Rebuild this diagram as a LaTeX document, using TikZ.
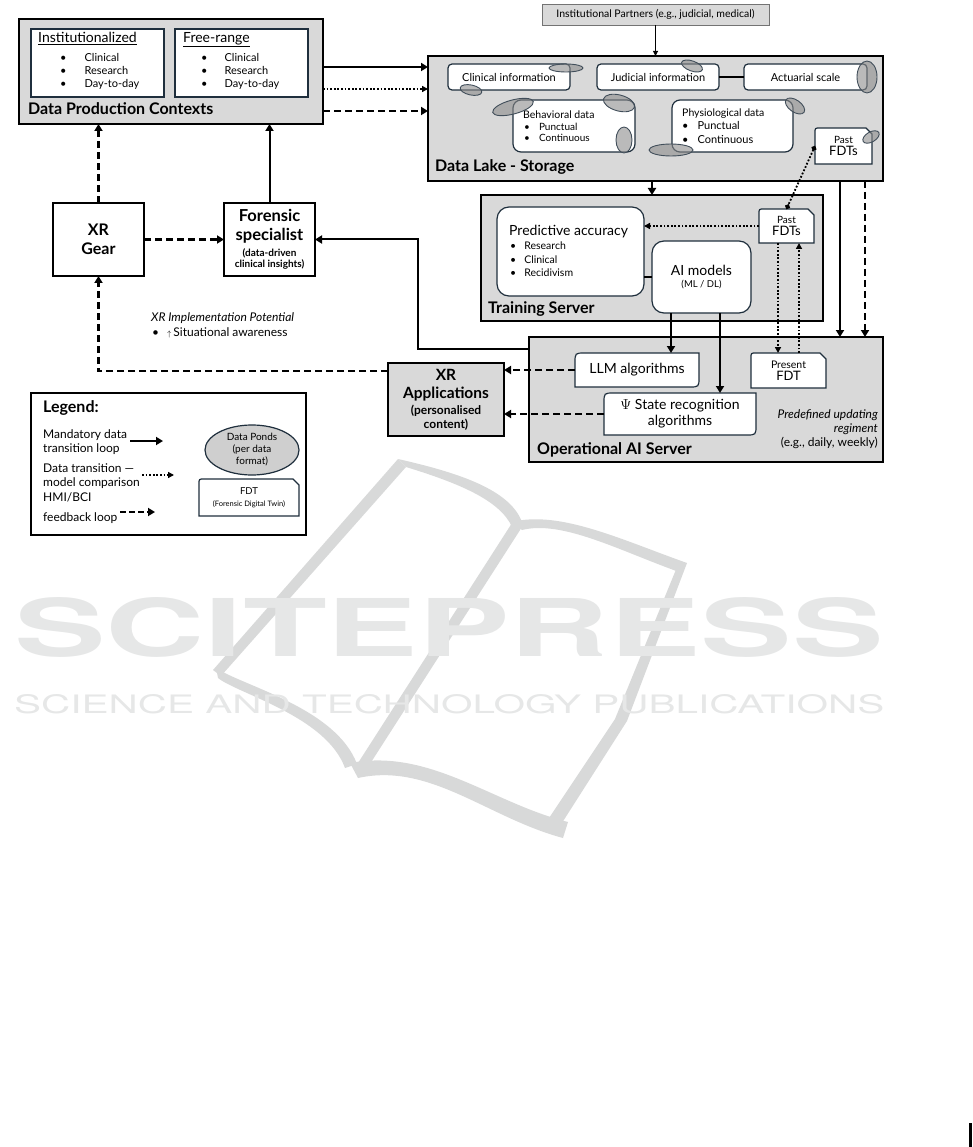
\documentclass[tikz,border=0pt]{standalone}
\usepackage{fontspec}
\setmainfont{Lato}
\newfontfamily\wmfont{TeX Gyre Heros}
\usepackage{graphicx}
\usepackage{tikz}
\usetikzlibrary{arrows.meta,calc,positioning,shapes.geometric}

\definecolor{panelgray}{HTML}{D9D9D9}
\definecolor{boxline}{HTML}{1F2F3D}
\definecolor{pondgray}{HTML}{8C8C8C}
\definecolor{wmgray}{HTML}{E6E7E7}
\definecolor{wmstrokegray}{HTML}{D8D9D9}

\newcommand{\fsz}[2]{\fontsize{#1}{#2}\selectfont}

\tikzstyle{panel} = [rectangle, draw=black, line width=2.2pt, fill=panelgray, anchor=north west, inner sep=0pt, outer sep=0pt]
\tikzstyle{whitepanel} = [panel, fill=white]
\tikzstyle{infobox} = [rectangle, rounded corners=4pt, draw=boxline, line width=1.2pt, fill=white, anchor=north west, inner sep=0pt, outer sep=0pt]
\tikzstyle{holder} = [rectangle, anchor=north west, inner sep=0pt, outer sep=0pt, line width=0pt]
\tikzstyle{title} = [anchor=base west, inner sep=0pt, font=\fsz{16}{19}\bfseries]
\tikzstyle{listnode} = [anchor=base west, inner sep=0pt]
\tikzstyle{txt} = [inner sep=0pt, align=center]
\tikzstyle{wmshape} = [fill=wmstrokegray, draw=none]
\tikzstyle{pond} = [draw=boxline!85, line width=0.9pt, fill=pondgray, fill opacity=0.6]
\tikzstyle{solidarrow} = [-{Triangle[length=7pt,width=8pt]}, line width=2pt]
\tikzstyle{thinarrow} = [-{Triangle[length=5pt,width=5pt]}, line width=1pt]
\tikzstyle{dotarrow} = [-{Triangle[length=6pt,width=6pt]}, line width=1.8pt, dash pattern=on 1.8pt off 1.8pt]
\tikzstyle{dasharrow} = [-{Triangle[length=7pt,width=8pt]}, line width=2.2pt, dash pattern=on 7pt off 4pt]

% FDT outline: rounded top left, cut top right
\newcommand{\fdtshape}[1]{%
  \filldraw[fill=white, draw=boxline, line width=1.2pt]
    (#1.south west) -- ($(#1.north west)+(0,5)$) .. controls (#1.north west) .. ($(#1.north west)+(5,0)$)
    -- ($(#1.north east)+(-6,0)$) -- ($(#1.north east)+(0,6)$) -- (#1.south east) -- cycle;}
% algorithm outline: rounded top left and bottom right
\newcommand{\diagshape}[1]{%
  \filldraw[fill=white, draw=boxline, line width=1.2pt]
    ($(#1.north west)+(0,10)$) .. controls (#1.north west) .. ($(#1.north west)+(10,0)$)
    -- (#1.north east) -- ($(#1.south east)+(0,-10)$) .. controls (#1.south east) .. ($(#1.south east)+(-10,0)$)
    -- (#1.south west) -- cycle;}

\begin{document}
\begin{tikzpicture}[x=1pt, y=-1pt]
\useasboundingbox (0,0) rectangle (972,1147);

% watermark
\fill[wmshape] (213,670) -- (398,459) -- (406,467) -- (221,676) -- cycle;
\fill[wmshape] (398,459) .. controls (460,473) and (510,490) .. (522,522) -- (512,527)
      .. controls (500,500) and (458,483) .. (406,467) -- cycle;
\fill[wmshape] (512,522) .. controls (560,510) and (622,540) .. (687,563) -- (679,572)
      .. controls (618,550) and (562,520) .. (522,530) -- cycle;
\fill[wmshape] (687,563) -- (627,721) -- (560,826) -- (547,821) -- (615,719) -- (677,567) -- cycle;
\fill[wmshape] (512,523) -- (522,527) -- (368,767) -- (358,763) -- cycle;
\fill[wmshape] (216,668) .. controls (243,686) and (336,708) .. (357,764) -- (345,768)
      .. controls (326,716) and (238,694) .. (218,678) -- cycle;
\fill[wmshape] (350,763) .. controls (430,748) and (492,803) .. (568,822) -- (563,838)
      .. controls (488,818) and (430,762) .. (358,778) -- cycle;
\node (wmtitle) [anchor=north west, inner sep=0pt, text=wmgray] at (14,597) {\resizebox{869pt}{59pt}{\wmfont\bfseries SCITEPRESS}};
\node (wmsub) [anchor=north west, inner sep=0pt, text=wmgray] at (14,694) {\resizebox{870pt}{19pt}{\wmfont SCIENCE AND TECHNOLOGY PUBLICATIONS}};
\fill (969,1123) rectangle (972,1147);

% data production contexts
\node (dpc) [panel, minimum width=304pt, minimum height=105pt] at (19,19) {};
\node (inst) [infobox, rounded corners=0pt, line width=1.5pt, minimum width=133pt, minimum height=68pt] at (31,29) {};
\node (free) [infobox, rounded corners=0pt, line width=1.5pt, minimum width=133pt, minimum height=68pt] at (175,29) {};
\node (insttitle) [listnode, font=\fsz{14}{16}] at (38,42.5) {\underline{Institutionalized}};
\node (freetitle) [listnode, font=\fsz{14}{16}] at (183,42.5) {\underline{Free-range}};
\node (instlist) [listnode, font=\fsz{11}{13}] at (60,62) {\begin{tabular}[t]{@{}l@{\hspace{18pt}}l@{}}
  \textbullet & Clinical\\ \textbullet & Research\\ \textbullet & Day-to-day\end{tabular}};
\node (freelist) [listnode, font=\fsz{11}{13}] at (201,62) {\begin{tabular}[t]{@{}l@{\hspace{17pt}}l@{}}
  \textbullet & Clinical\\ \textbullet & Research\\ \textbullet & Day-to-day\end{tabular}};
\node (dpctitle) [title] at (28,115) {Data Production Contexts};

% data lake
\node (partners) [panel, line width=0.8pt, draw=black!55, minimum width=227pt, minimum height=21pt, font=\fsz{10.5}{12}] at (542,4) {Institutional Partners (e.g., judicial, medical)};
\node (lake) [panel, minimum width=455pt, minimum height=125pt] at (428,56) {};
\node (clinfo) [infobox, minimum width=122pt, minimum height=26pt, font=\fsz{11}{13}] at (448,64) {Clinical information};
\node (judinfo) [infobox, minimum width=122pt, minimum height=26pt, font=\fsz{11}{13}] at (597,64) {Judicial information};
\node (actuarial) [infobox, minimum width=123pt, minimum height=26pt, font=\fsz{11}{13}] at (744,64) {Actuarial scale};
\draw[line width=1.5pt] (judinfo.east) -- (actuarial.west);
\node (behav) [infobox, rounded corners=8pt, minimum width=122pt, minimum height=52pt] at (513,100) {};
\node (behavtxt) [listnode, font=\fsz{10.5}{12}] at (523,119) {Behavioral data};
\node (behavlist) [listnode, font=\fsz{10}{11}] at (524,131) {\begin{tabular}[t]{@{}l@{\hspace{9pt}}l@{}}
  \textbullet & Punctual\\ \textbullet & Continuous\end{tabular}};
\node (physio) [infobox, rounded corners=8pt, minimum width=121pt, minimum height=52pt] at (672,100) {};
\node (physiotxt) [listnode, font=\fsz{10.5}{12}] at (682,117) {Physiological data};
\node (physiolist) [listnode, font=\fsz{11}{13.5}] at (682,130) {\begin{tabular}[t]{@{}l@{\hspace{9pt}}l@{}}
  \textbullet & Punctual\\ \textbullet & Continuous\end{tabular}};
\node (pastlake) [holder, minimum width=57pt, minimum height=36pt] at (815,128) {};
\fdtshape{pastlake}
\node (pastlaketxt) [txt] at (pastlake.center) {\fsz{10}{14}Past\\\fsz{13}{15}FDTs};
\node (laketitle) [title] at (435,172) {Data Lake - Storage};

% training server
\node (train) [panel, minimum width=342pt, minimum height=126pt] at (481,195) {};
\node (predacc) [infobox, rounded corners=12pt, minimum width=147pt, minimum height=89pt] at (497,207) {};
\node (predacctxt) [listnode, font=\fsz{14}{16}] at (509,236) {Predictive accuracy};
\node (predlist) [listnode, font=\fsz{10.5}{13.5}] at (510,250) {\begin{tabular}[t]{@{}l@{\hspace{8pt}}l@{}}
  \textbullet & Research\\ \textbullet & Clinical\\ \textbullet & Recidivism\end{tabular}};
\node (aimodels) [infobox, rounded corners=12pt, minimum width=99pt, minimum height=72pt, align=center] at (652,241) {\fsz{14}{19}AI models\\\fsz{9.5}{11}(ML / DL)};
\node (pasttrain) [holder, minimum width=55pt, minimum height=34pt] at (759,209) {};
\fdtshape{pasttrain}
\node (pasttraintxt) [txt] at (pasttrain.center) {\fsz{10}{14}Past\\\fsz{13}{15}FDTs};
\node (traintitle) [title] at (488,313) {Training Server};

% operational ai server
\node (opai) [panel, minimum width=354pt, minimum height=125pt] at (529,337) {};
\node (llm) [holder, minimum width=124pt, minimum height=34pt] at (575,353) {};
\diagshape{llm}
\node (llmtxt) [txt, font=\fsz{14}{17}] at (llm.center) {LLM algorithms};
\node (present) [holder, minimum width=75pt, minimum height=35pt] at (751,353) {};
\fdtshape{present}
\node (presenttxt) [txt] at (present.center) {\fsz{10.5}{15}Present\\\fsz{13}{15}FDT};
\node (psi) [holder, minimum width=152pt, minimum height=42pt] at (604,393) {};
\diagshape{psi}
\node (psitxt) [txt, font=\fsz{14}{16}] at (psi.center) {$\Psi$ State recognition\\algorithms};
\node (regiment) [anchor=north east, inner sep=0pt, align=right, font=\fsz{12}{14}] at (878,409) {\itshape Predefined updating\\\itshape regiment\\(e.g., daily, weekly)};
\node (opaititle) [title] at (537,454) {Operational AI Server};

% xr side
\node (xrapp) [panel, minimum width=116pt, minimum height=73pt, align=center, font=\fsz{15.5}{18}\bfseries] at (388,363) {XR\\Applications\\[-2pt]{\fsz{12}{14}\bfseries (personalised}\\[-4pt]{\fsz{12}{14}\bfseries content)}};
\node (xrgear) [whitepanel, minimum width=91pt, minimum height=73pt, align=center, font=\fsz{16}{19}\bfseries] at (53,203) {XR\\Gear};
\node (forensic) [whitepanel, minimum width=91pt, minimum height=73pt, align=center, font=\fsz{16.5}{19}\bfseries] at (224,203) {Forensic\\specialist\\[-3pt]{\fsz{10}{11}\bfseries (data-driven}\\[-8pt]{\fsz{10}{11}\bfseries clinical insights)}};
\node (xrpot) [listnode, font=\fsz{12}{15}\itshape] at (151,321) {XR Implementation Potential};
\node (xrpotlist) [listnode, font=\fsz{12}{15}] at (152,336) {\textbullet\hspace{8pt}{\footnotesize$\uparrow$}\,Situational awareness};

% legend
\node (legend) [whitepanel, minimum width=275pt, minimum height=142pt] at (31,393) {};
\node (legtitle) [listnode, font=\fsz{16}{19}\bfseries] at (43,412) {Legend:};
\node (legsolid) [listnode, font=\fsz{12}{14.5}] at (43,438) {\begin{tabular}[t]{@{}l@{}}Mandatory data\\transition loop\end{tabular}};
\node (legdot) [listnode, font=\fsz{12}{14.5}] at (43,472) {\begin{tabular}[t]{@{}l@{}}Data transition ---\\model comparison\end{tabular}};
\node (legdash) [listnode, font=\fsz{12}{20}] at (43,501) {\begin{tabular}[t]{@{}l@{}}HMI/BCI\\feedback loop\end{tabular}};
\coordinate (lgsolidA) at (130,441);
\coordinate (lgsolidB) at (163,441);
\coordinate (lgdotA) at (142,475);
\coordinate (lgdotB) at (174,475);
\coordinate (lgdashA) at (120,512);
\coordinate (lgdashB) at (155,512);
\draw[solidarrow] (lgsolidA) -- (lgsolidB);
\draw[dotarrow, line width=1.4pt] (lgdotA) -- (lgdotB);
\draw[dasharrow, dash pattern=on 6pt off 3pt] (lgdashA) -- (lgdashB);
\node (ponds) [ellipse, draw=boxline, line width=1.2pt, fill=black!19, minimum width=94pt, minimum height=50pt, inner sep=0pt, align=center, font=\fsz{10}{12}] at (252,450) {Data Ponds\\(per data\\format)};
\node (legfdt) [holder, minimum width=100pt, minimum height=37pt] at (199,479) {};
\fdtshape{legfdt}
\node (legfdttxt) [txt] at (legfdt.center) {\fsz{9.5}{13}FDT\\\fsz{7.5}{9}(Forensic Digital Twin)};

% data ponds
\foreach \px/\py/\rx/\ry/\rot in {566/68/17/4/0, 471/90/11/5/-12, 692/66/11/5/-20, 867/77/10/16/0,
    513/107/21/7/15, 619/103/16/8/-15, 624/140/8/13/0, 795/106/11/6/-35, 671/150/22/6/0, 871/137/9/5/30}
  \draw[pond, rotate around={\rot:(\px,\py)}] (\px,\py) ellipse [x radius=\rx, y radius=\ry];

% connectors
\draw[solidarrow] (dpc.east |- 0,67) -- (lake.west |- 0,67);
\draw[dotarrow] (dpc.east |- 0,89) -- (lake.west |- 0,89);
\draw[dasharrow] (dpc.east |- 0,111) -- (lake.west |- 0,111);
\draw[thinarrow] (partners.south) -- (lake.north);
\draw[solidarrow] (lake.south -| train.north) -- (train.north);
\draw[solidarrow] (lake.south -| 840,0) -- (opai.north -| 840,0);
\draw[dasharrow] (lake.south -| 865,0) -- (opai.north -| 865,0);
\draw[line width=1.8pt, dash pattern=on 1.8pt off 1.8pt, {Circle[length=5pt]}-{Circle[length=5pt]}] (pastlake.west) -- (pasttrain.north);
\draw[dotarrow] (pasttrain.west) -- (predacc.east |- pasttrain.west);
\draw[dotarrow] (pasttrain.south -| 778,0) -- (present.north -| 778,0);
\draw[dotarrow] (present.north -| 799,0) -- (pasttrain.south -| 799,0);
\draw[line width=1.5pt] (predacc.east |- 0,277) -- (aimodels.west |- 0,277);
\draw[solidarrow] (aimodels.south -| 671,0) -- (llm.north -| 671,0);
\draw[solidarrow] (aimodels.south -| 720,0) -- (psi.north -| 720,0);
\draw[dasharrow] (llm.west) -- (xrapp.east |- llm.west);
\draw[dasharrow] (psi.west) -- (xrapp.east |- psi.west);
\draw[solidarrow] (opai.west |- 0,349) -- (418,349) |- (forensic.east);
\draw[dasharrow] (xrapp.west |- 0,371) -| (xrgear.south);
\draw[dasharrow] (xrgear) -- (forensic);
\draw[dasharrow] (xrgear.north) -- (xrgear.north |- dpc.south);
\draw[solidarrow] (forensic.north) -- (forensic.north |- dpc.south);

\end{tikzpicture}
\end{document}
